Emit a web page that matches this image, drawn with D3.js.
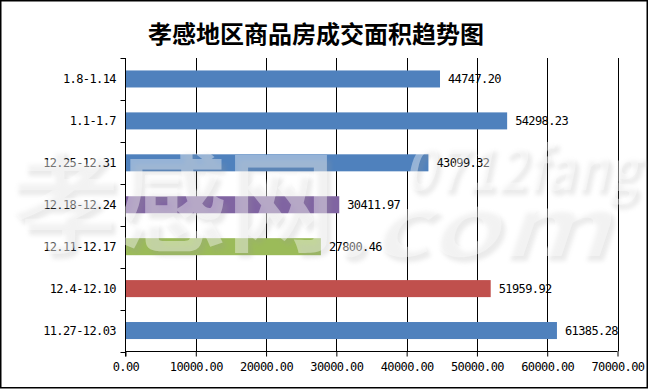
<!DOCTYPE html>
<meta charset="utf-8">
<head>
    <script src="https://d3js.org/d3.v7.min.js"></script>
    <style>
        body {
            margin: 0;
            background: #fff;
        }

        .label {
            font: 12px "DejaVu Sans Mono", "Liberation Mono", monospace;
            letter-spacing: -0.6px;
            fill: #000;
        }

        .title {
            font: bold 24px "Noto Sans CJK SC", sans-serif;
            text-anchor: middle;
        }

        .wm {
            font-family: "Noto Sans CJK SC", sans-serif;
            font-weight: bold;
        }
    </style>
    <title>孝感地区商品房成交面积趋势图</title>
</head>
<body>
<svg id="chart" width="649" height="390"></svg>

<script>

    // data (top to bottom as shown)
    var periods = ["1.8-1.14", "1.1-1.7", "12.25-12.31", "12.18-12.24", "12.11-12.17", "12.4-12.10", "11.27-12.03"];
    var areas = [44747.20, 54298.23, 43099.32, 30411.97, 27800.46, 51959.92, 61385.28];
    var barColors = ["#4F81BD", "#4F81BD", "#4F81BD", "#8064A2", "#9BBB59", "#C0504D", "#4F81BD"];
    var xTicks = [0, 10000, 20000, 30000, 40000, 50000, 60000, 70000];

    var svg = d3.select("#chart");

    var plotLeft = 125.5, plotRight = 617.5, plotTop = 58, plotBottom = 351.5;

    var x = d3.scaleLinear()
        .domain([0, 70000])
        .range([plotLeft, plotRight]);

    var y = d3.scaleBand()
        .domain(periods)
        .range([plotTop, plotBottom])
        .paddingInner(0.594)
        .paddingOuter(0.297);

    // outer frame
    svg.append("rect")
        .attr("x", 0.75).attr("y", 0.75)
        .attr("width", 646.5).attr("height", 387)
        .attr("fill", "#fff")
        .attr("stroke", "#000")
        .attr("stroke-width", 1.5);

    svg.append("text")
        .attr("class", "title")
        .attr("x", 316)
        .attr("y", 43)
        .text("孝感地区商品房成交面积趋势图");

    // vertical grid lines
    svg.append("g")
        .selectAll("line")
        .data(xTicks.slice(1))
        .enter().append("line")
        .attr("x1", function (d) { return Math.round(x(d)) + 0.5; })
        .attr("x2", function (d) { return Math.round(x(d)) + 0.5; })
        .attr("y1", plotTop)
        .attr("y2", plotBottom)
        .attr("stroke", "#000")
        .attr("stroke-width", 1);

    // bars
    svg.append("g")
        .selectAll("rect")
        .data(areas)
        .enter().append("rect")
        .attr("x", x(0))
        .attr("y", function (d, i) { return y(periods[i]); })
        .attr("width", function (d) { return x(d) - x(0); })
        .attr("height", y.bandwidth())
        .attr("fill", function (d, i) { return barColors[i]; });

    // value labels
    svg.append("g")
        .selectAll("text")
        .data(areas)
        .enter().append("text")
        .attr("class", "label")
        .attr("x", function (d) { return x(d) + 8; })
        .attr("y", function (d, i) { return y(periods[i]) + y.bandwidth() / 2; })
        .attr("dy", "0.35em")
        .text(function (d) { return d.toFixed(2); });

    // bottom axis
    var xAxis = d3.axisBottom(x)
        .tickValues(xTicks)
        .tickSize(5)
        .tickPadding(6)
        .tickFormat(function (d) { return d.toFixed(2); });

    var gx = svg.append("g")
        .attr("transform", "translate(0," + plotBottom + ")")
        .call(xAxis);
    gx.attr("font-family", null).attr("font-size", null);
    gx.select(".domain").attr("stroke", "#000").attr("d", "M" + plotLeft + ",0H" + plotRight);
    gx.selectAll(".tick line").attr("stroke", "#000");
    gx.selectAll(".tick text")
        .attr("class", "label")
        .attr("fill", "#000");

    // left axis: line, ticks at band edges, category names
    var gy = svg.append("g");
    gy.append("line")
        .attr("x1", plotLeft).attr("x2", plotLeft)
        .attr("y1", plotTop).attr("y2", plotBottom + 5)
        .attr("stroke", "#000");
    gy.selectAll(".edge")
        .data(d3.range(periods.length + 1))
        .enter().append("line")
        .attr("class", "edge")
        .attr("x1", plotLeft - 5).attr("x2", plotLeft)
        .attr("y1", function (i) { return Math.round(plotTop + i * y.step()) + 0.5; })
        .attr("y2", function (i) { return Math.round(plotTop + i * y.step()) + 0.5; })
        .attr("stroke", "#000");
    gy.selectAll("text")
        .data(periods)
        .enter().append("text")
        .attr("class", "label")
        .attr("x", 116)
        .attr("y", function (d) { return y(d) + y.bandwidth() / 2; })
        .attr("dy", "0.35em")
        .attr("text-anchor", "end")
        .text(function (d) { return d; });

    // site watermark
    var defs = svg.append("defs");
    defs.append("filter")
        .attr("id", "wmShadow")
        .attr("x", "-10%").attr("y", "-10%")
        .attr("width", "130%").attr("height", "140%")
        .append("feGaussianBlur")
        .attr("stdDeviation", 2);

    var wm = svg.append("g").attr("class", "wm");
    var marks = [
        {t: "孝感网", x: 10, y: 243, size: 110, len: 325, italic: false},
        {t: "0712fang", x: 404, y: 190, size: 60, len: 234, italic: true},
        {t: ".com", x: 332, y: 256, size: 86, len: 276, italic: true}
    ];
    marks.forEach(function (m) {
        wm.append("text")
            .attr("x", m.x + 4).attr("y", m.y + 5)
            .attr("font-size", m.size)
            .attr("textLength", m.len)
            .attr("lengthAdjust", "spacingAndGlyphs")
            .attr("font-style", m.italic ? "italic" : null)
            .attr("fill", "#999")
            .attr("opacity", 0.2)
            .attr("filter", "url(#wmShadow)")
            .text(m.t);
        wm.append("text")
            .attr("x", m.x).attr("y", m.y)
            .attr("font-size", m.size)
            .attr("textLength", m.len)
            .attr("lengthAdjust", "spacingAndGlyphs")
            .attr("font-style", m.italic ? "italic" : null)
            .attr("fill", "#fff")
            .attr("opacity", 0.4)
            .text(m.t);
    });

</script>
</body>
